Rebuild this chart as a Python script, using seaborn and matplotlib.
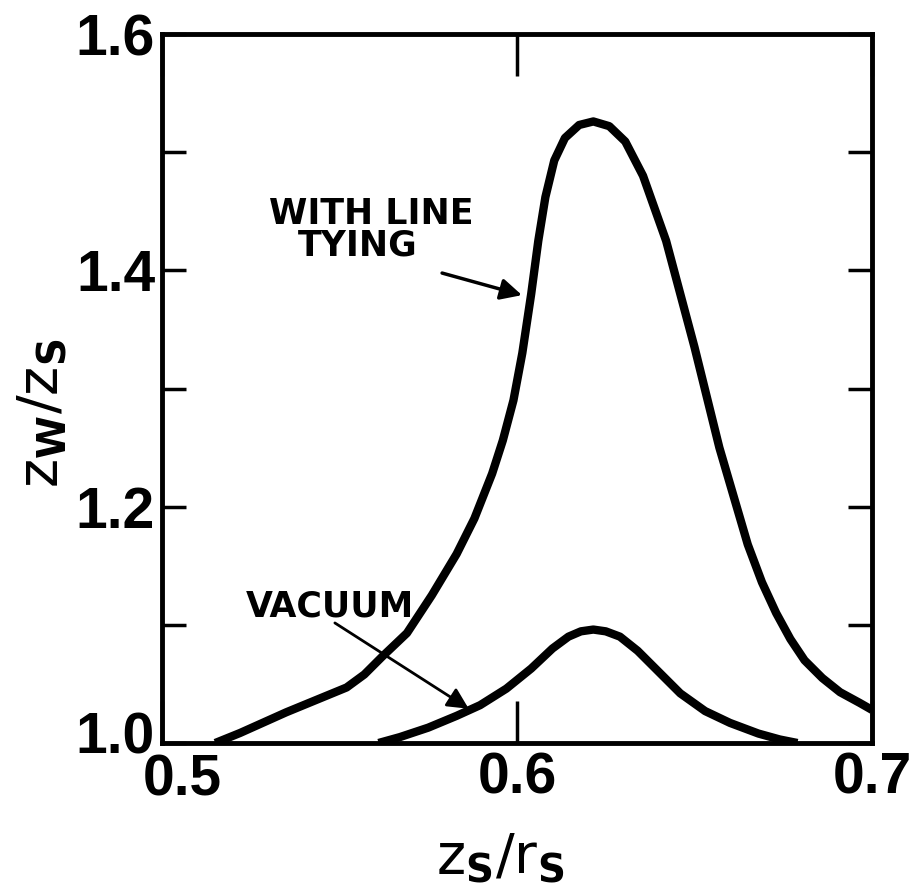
import matplotlib
matplotlib.use('Agg')
import matplotlib.pyplot as plt
import matplotlib.transforms as mtransforms
import seaborn as sns

# curve: z_s/r_s vs z_w/z_s
x_tying = [0.515, 0.522, 0.535, 0.552, 0.557, 0.562, 0.569, 0.576, 0.583, 0.588,
           0.593, 0.596, 0.599, 0.6015, 0.604, 0.606, 0.608, 0.6105, 0.6135,
           0.6175, 0.6215, 0.626, 0.6305, 0.6355, 0.642, 0.650, 0.657, 0.665,
           0.669, 0.673, 0.677, 0.681, 0.686, 0.691, 0.6965, 0.700]
y_tying = [1.0, 1.0085, 1.026, 1.047, 1.058, 1.073, 1.093, 1.125, 1.160, 1.190,
           1.228, 1.256, 1.290, 1.330, 1.380, 1.425, 1.462, 1.493, 1.512,
           1.523, 1.526, 1.522, 1.509, 1.480, 1.425, 1.335, 1.250, 1.168,
           1.136, 1.110, 1.088, 1.070, 1.055, 1.043, 1.034, 1.028]

x_vacuum = [0.561, 0.567, 0.575, 0.583, 0.5896, 0.597, 0.604, 0.610, 0.6145,
            0.618, 0.6215, 0.625, 0.629, 0.634, 0.640, 0.646, 0.653, 0.660,
            0.668, 0.674, 0.679]
y_vacuum = [1.0, 1.005, 1.013, 1.023, 1.032, 1.046, 1.063, 1.080, 1.090,
            1.0945, 1.096, 1.0945, 1.090, 1.078, 1.060, 1.042, 1.027, 1.017,
            1.008, 1.003, 1.0]

x_ticks = [0.5, 0.6, 0.7]
x_ticklabels = ['0.5', '0.6', '0.7']
y_ticks = [1.0, 1.2, 1.4, 1.6]
y_ticklabels = ['1.0', '1.2', '1.4', '1.6']
y_minor = [1.1, 1.3, 1.5]

sns.set_style('ticks')
plt.rcParams['font.family'] = ['DejaVu Sans']
plt.rcParams['text.color'] = 'black'
plt.rcParams['xtick.color'] = 'black'
plt.rcParams['ytick.color'] = 'black'
plt.rcParams['axes.labelcolor'] = 'black'

fig = plt.figure(figsize=(9.15, 8.9), dpi=100)
ax = fig.add_axes([162 / 915, 1 - 743 / 890, 710 / 915, 709 / 890])

sns.lineplot(x=x_tying, y=y_tying, ax=ax, sort=False, color='black',
             lw=6, solid_capstyle='butt', solid_joinstyle='round')
sns.lineplot(x=x_vacuum, y=y_vacuum, ax=ax, sort=False, color='black',
             lw=6, solid_capstyle='butt', solid_joinstyle='round')

ax.set_xlim(0.5, 0.7)
ax.set_ylim(1.0, 1.6)

for s in ax.spines.values():
    s.set_linewidth(3.5)
    s.set_color('black')

ax.set_xticks(x_ticks)
ax.set_xticklabels(x_ticklabels)
ax.set_yticks(y_ticks)
ax.set_yticklabels(y_ticklabels)
ax.set_yticks(y_minor, minor=True)

ax.tick_params(axis='x', which='major', direction='in', length=30, width=2.5,
               top=True, bottom=True, pad=6, colors='black')
ax.tick_params(axis='y', which='both', direction='in', length=17, width=2.5,
               left=True, right=True, pad=5, colors='black')
for lab in ax.get_xticklabels() + ax.get_yticklabels():
    lab.set_fontfamily('Liberation Sans')
    lab.set_fontweight('bold')
    lab.set_fontsize(41)
    lab.set_color('black')

# nudge the 0.5 label right and the 1.0 label up so they don't collide
first = ax.get_xticklabels()[0]
first.set_transform(first.get_transform() +
                    mtransforms.ScaledTranslation(0.2, -0.02, fig.dpi_scale_trans))
low = ax.get_yticklabels()[0]
low.set_transform(low.get_transform() +
                  mtransforms.ScaledTranslation(0, 0.1, fig.dpi_scale_trans))

ax.set_xlabel('')
ax.set_ylabel('')
fig.text(41 / 915, 1 - 413 / 890,
         r'$\mathrm{z}_{\mathbf{W}}/\mathrm{z}_{\mathbf{S}}$',
         rotation=90, ha='center', va='center', fontsize=40)
fig.text(500 / 915, 1 - 857 / 890,
         r'$\mathrm{z}_{\mathbf{S}}/\mathrm{r}_{\mathbf{S}}$',
         ha='center', va='center', fontsize=40)

# labels and arrows
ax.text(0.5589, 1.4473, 'WITH LINE', ha='center', va='center',
        fontsize=25, fontweight='bold')
ax.text(0.5551, 1.421, 'TYING', ha='center', va='center',
        fontsize=25, fontweight='bold')
ax.annotate('', xy=(0.6014, 1.379), xytext=(0.5789, 1.3977),
            arrowprops=dict(arrowstyle='-|>', lw=2.5, color='black',
                            mutation_scale=32, shrinkA=0, shrinkB=0))

ax.text(0.5473, 1.1155, 'VACUUM', ha='center', va='center',
        fontsize=25, fontweight='bold')
ax.annotate('', xy=(0.5864, 1.029), xytext=(0.5487, 1.1016),
            arrowprops=dict(arrowstyle='-|>', lw=2, color='black',
                            mutation_scale=32, shrinkA=0, shrinkB=0))

fig.savefig('out.png', dpi=100)
